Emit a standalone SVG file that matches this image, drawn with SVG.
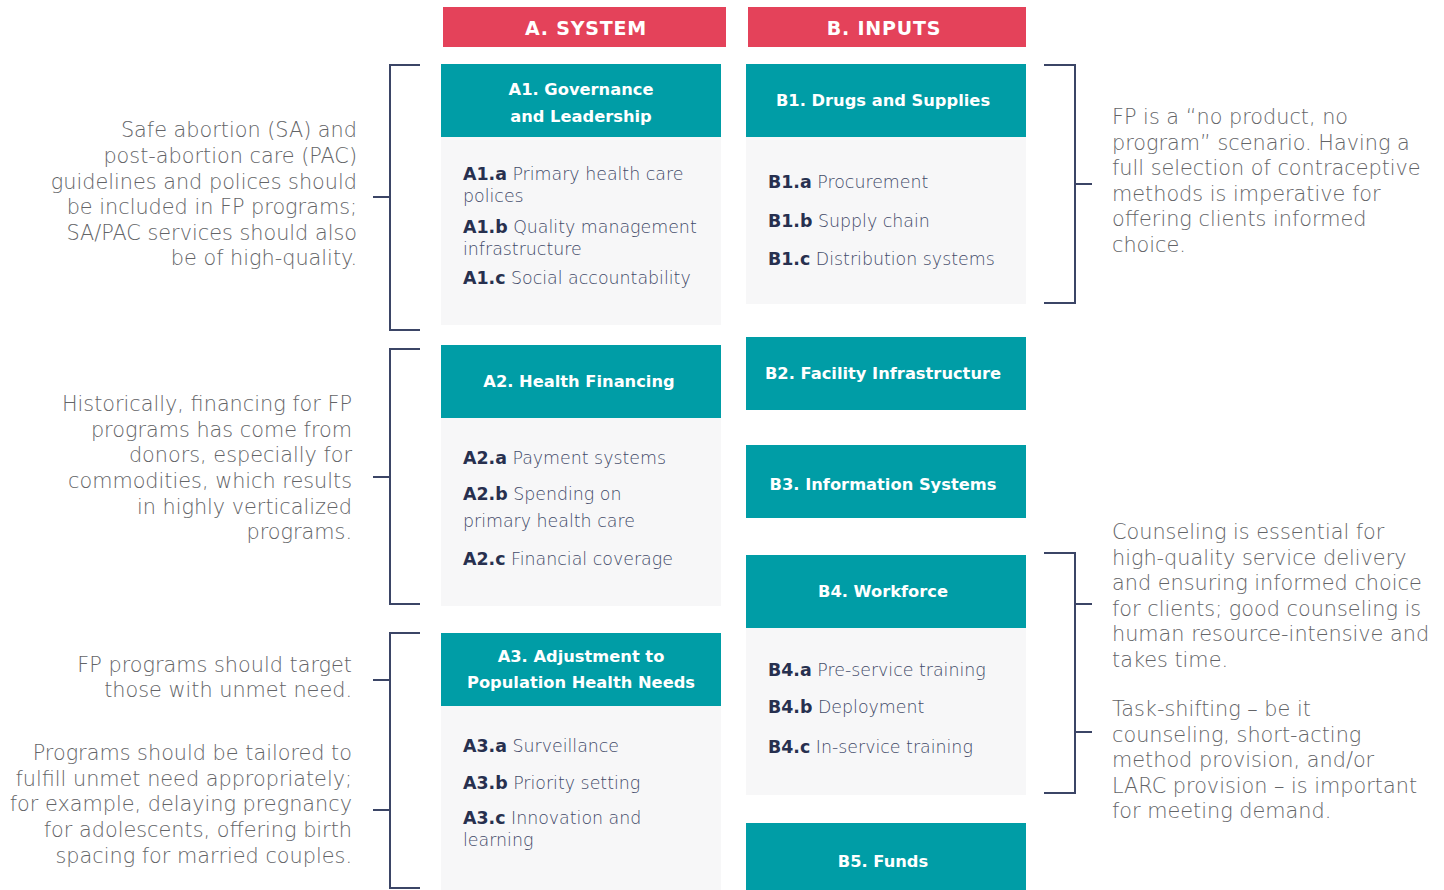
<svg xmlns="http://www.w3.org/2000/svg" width="1444" height="890" viewBox="0 0 1444 890">
<style>
.hdr{fill:#E4425A}
.head{fill:#009DA6}
.body{fill:#F7F7F8}
.ht{font-family:"DejaVu Sans","Liberation Sans",sans-serif;font-weight:700;font-size:19px;fill:#fff;text-anchor:middle;letter-spacing:0.8px}
.tt{font-family:"DejaVu Sans","Liberation Sans",sans-serif;font-weight:700;font-size:16.3px;fill:#fff;text-anchor:middle}
.it{font-family:"DejaVu Sans","Liberation Sans",sans-serif;font-weight:200;font-size:17.4px;fill:#424A68}
.it tspan.b{font-weight:700;fill:#27304F}
.note{font-family:"DejaVu Sans","Liberation Sans",sans-serif;font-weight:200;font-size:20.8px;fill:#636467}
.r{text-anchor:end}
.br{fill:none;stroke:#3B4566;stroke-width:2}
</style>
<g id="header-a"><rect class="hdr" x="443" y="7" width="283" height="40"/><text class="ht" x="586" y="35">A. SYSTEM</text></g>
<g id="header-b"><rect class="hdr" x="748" y="7" width="278" height="40"/><text class="ht" x="884" y="35">B. INPUTS</text></g>

<g id="A1"><rect class="head" x="441" y="64" width="280" height="73"/><rect class="body" x="441" y="137" width="280" height="188"/>
<text class="tt" x="581" y="95">A1. Governance</text><text class="tt" x="581" y="122">and Leadership</text>
<text class="it" x="463" y="180"><tspan class="b">A1.a</tspan> Primary health care</text><text class="it" x="463" y="202">polices</text>
<text class="it" x="463" y="233"><tspan class="b">A1.b</tspan> Quality management</text><text class="it" x="463" y="255">infrastructure</text>
<text class="it" x="463" y="284"><tspan class="b">A1.c</tspan> Social accountability</text></g>

<g id="A2"><rect class="head" x="441" y="345" width="280" height="73"/><rect class="body" x="441" y="418" width="280" height="188"/>
<text class="tt" x="579" y="387">A2. Health Financing</text>
<text class="it" x="463" y="464"><tspan class="b">A2.a</tspan> Payment systems</text>
<text class="it" x="463" y="500"><tspan class="b">A2.b</tspan> Spending on</text><text class="it" x="463" y="527">primary health care</text>
<text class="it" x="463" y="565"><tspan class="b">A2.c</tspan> Financial coverage</text></g>

<g id="A3"><rect class="head" x="441" y="633" width="280" height="73"/><rect class="body" x="441" y="706" width="280" height="184"/>
<text class="tt" x="581" y="662">A3. Adjustment to</text><text class="tt" x="581" y="688">Population Health Needs</text>
<text class="it" x="463" y="752"><tspan class="b">A3.a</tspan> Surveillance</text>
<text class="it" x="463" y="789"><tspan class="b">A3.b</tspan> Priority setting</text>
<text class="it" x="463" y="824"><tspan class="b">A3.c</tspan> Innovation and</text><text class="it" x="463" y="846">learning</text></g>

<g id="B1"><rect class="head" x="746" y="64" width="280" height="73"/><rect class="body" x="746" y="137" width="280" height="167"/>
<text class="tt" x="883" y="106">B1. Drugs and Supplies</text>
<text class="it" x="768" y="188"><tspan class="b">B1.a</tspan> Procurement</text>
<text class="it" x="768" y="227"><tspan class="b">B1.b</tspan> Supply chain</text>
<text class="it" x="768" y="265"><tspan class="b">B1.c</tspan> Distribution systems</text></g>

<g id="B2"><rect class="head" x="746" y="337" width="280" height="73"/><text class="tt" x="883" y="379">B2. Facility Infrastructure</text></g>
<g id="B3"><rect class="head" x="746" y="445" width="280" height="73"/><text class="tt" x="883" y="490">B3. Information Systems</text></g>

<g id="B4"><rect class="head" x="746" y="555" width="280" height="73"/><rect class="body" x="746" y="628" width="280" height="167"/>
<text class="tt" x="883" y="597">B4. Workforce</text>
<text class="it" x="768" y="676"><tspan class="b">B4.a</tspan> Pre-service training</text>
<text class="it" x="768" y="713"><tspan class="b">B4.b</tspan> Deployment</text>
<text class="it" x="768" y="753"><tspan class="b">B4.c</tspan> In-service training</text></g>

<g id="B5"><rect class="head" x="746" y="823" width="280" height="67"/><text class="tt" x="883" y="867">B5. Funds</text></g>

<g id="connectors">
<path class="br" d="M420 65H390V330H420M373 197H390"/>
<path class="br" d="M420 349H390V604H420M373 477H390"/>
<path class="br" d="M420 633H390V888H420M373 680H390M373 810H390"/>
<path class="br" d="M1044 65H1075V303H1044M1075 184H1092"/>
<path class="br" d="M1044 553H1075V793H1044M1075 604H1092M1075 732H1092"/>
</g>

<g id="note-sa">
<text class="note r" x="357" y="137">Safe abortion (SA) and</text>
<text class="note r" x="357" y="163">post-abortion care (PAC)</text>
<text class="note r" x="357" y="189">guidelines and polices should</text>
<text class="note r" x="357" y="214">be included in FP programs;</text>
<text class="note r" x="357" y="240">SA/PAC services should also</text>
<text class="note r" x="357" y="265">be of high-quality.</text>
</g>
<g id="note-financing">
<text class="note r" x="352" y="411">Historically, financing for FP</text>
<text class="note r" x="352" y="437">programs has come from</text>
<text class="note r" x="352" y="462">donors, especially for</text>
<text class="note r" x="352" y="488">commodities, which results</text>
<text class="note r" x="352" y="514">in highly verticalized</text>
<text class="note r" x="352" y="539">programs.</text>
</g>
<g id="note-unmet">
<text class="note r" x="352" y="672">FP programs should target</text>
<text class="note r" x="352" y="697">those with unmet need.</text>
</g>
<g id="note-tailored">
<text class="note r" x="352" y="760">Programs should be tailored to</text>
<text class="note r" x="352" y="786">fulfill unmet need appropriately;</text>
<text class="note r" x="352" y="811">for example, delaying pregnancy</text>
<text class="note r" x="352" y="837">for adolescents, offering birth</text>
<text class="note r" x="352" y="863">spacing for married couples.</text>
</g>
<g id="note-product">
<text class="note" x="1112" y="124">FP is a “no product, no</text>
<text class="note" x="1112" y="150">program” scenario. Having a</text>
<text class="note" x="1112" y="175">full selection of contraceptive</text>
<text class="note" x="1112" y="201">methods is imperative for</text>
<text class="note" x="1112" y="226">offering clients informed</text>
<text class="note" x="1112" y="252">choice.</text>
</g>
<g id="note-counseling">
<text class="note" x="1112" y="539">Counseling is essential for</text>
<text class="note" x="1112" y="565">high-quality service delivery</text>
<text class="note" x="1112" y="590">and ensuring informed choice</text>
<text class="note" x="1112" y="616">for clients; good counseling is</text>
<text class="note" x="1112" y="641">human resource-intensive and</text>
<text class="note" x="1112" y="667">takes time.</text>
</g>
<g id="note-task">
<text class="note" x="1112" y="716">Task-shifting – be it</text>
<text class="note" x="1112" y="742">counseling, short-acting</text>
<text class="note" x="1112" y="767">method provision, and/or</text>
<text class="note" x="1112" y="793">LARC provision – is important</text>
<text class="note" x="1112" y="818">for meeting demand.</text>
</g>
</svg>
